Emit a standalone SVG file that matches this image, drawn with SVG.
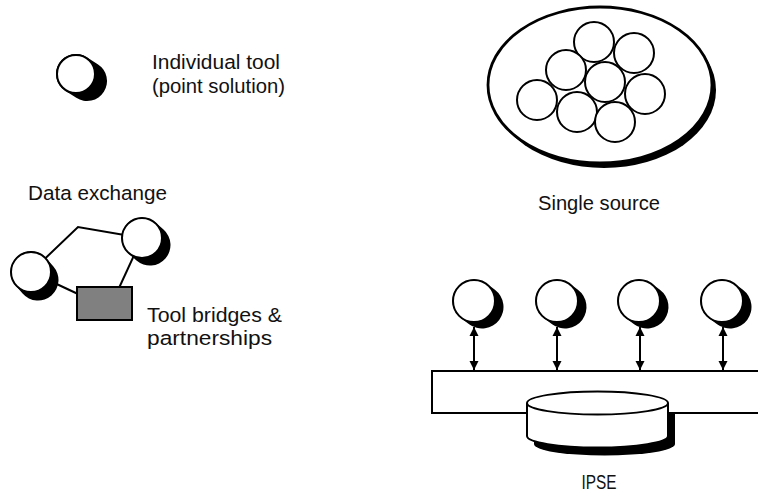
<svg xmlns="http://www.w3.org/2000/svg" width="758" height="494" viewBox="0 0 758 494">
<defs>
<style>
text{font-family:"Liberation Sans","DejaVu Sans",sans-serif;font-size:20.5px;fill:#111}
.tool{fill:#fff;stroke:#000;stroke-width:2}
.shadow{stroke:#000;stroke-linecap:round}
.ln{fill:none;stroke:#000;stroke-width:2}
</style>
<marker id="ah" viewBox="0 0 10 10" refX="10" refY="5" markerWidth="4.5" markerHeight="5" orient="auto-start-reverse" markerUnits="strokeWidth">
<path d="M0,0 L10,5 L0,10 Z" fill="#000"/>
</marker>
</defs>
<rect width="758" height="494" fill="#fff"/>

<g id="individual-tool">
<line class="shadow" x1="76" y1="74" x2="87" y2="81" stroke-width="40"/>
<circle class="tool" cx="76" cy="74" r="19"/>
<text x="152" y="69" textLength="128" lengthAdjust="spacingAndGlyphs">Individual tool</text>
<text x="152" y="93" textLength="133" lengthAdjust="spacingAndGlyphs">(point solution)</text>
</g>

<g id="single-source">
<ellipse cx="604" cy="90" rx="112" ry="78" fill="#000"/>
<ellipse cx="600" cy="85" rx="112" ry="78" fill="#fff" stroke="#000" stroke-width="2.8"/>
<circle class="tool" cx="594" cy="42" r="20"/>
<circle class="tool" cx="634" cy="53" r="20"/>
<circle class="tool" cx="566" cy="70" r="20"/>
<circle class="tool" cx="605" cy="82" r="20"/>
<circle class="tool" cx="645" cy="94" r="20"/>
<circle class="tool" cx="537" cy="100" r="20"/>
<circle class="tool" cx="577" cy="112" r="20"/>
<circle class="tool" cx="615" cy="122" r="20"/>
<text x="538" y="210" textLength="122" lengthAdjust="spacingAndGlyphs">Single source</text>
</g>

<g id="connectors-data-exchange">
<polyline class="ln" points="31,272 78,227 142,238"/>
<line class="ln" x1="142" y1="238" x2="119" y2="288"/>
<line class="ln" x1="31" y1="272" x2="78" y2="294"/>
</g>

<g id="data-exchange">
<text x="28" y="200" textLength="139" lengthAdjust="spacingAndGlyphs">Data exchange</text>
<line class="shadow" x1="31" y1="272" x2="38" y2="280" stroke-width="41"/>
<circle class="tool" cx="31" cy="272" r="20"/>
<line class="shadow" x1="142" y1="238" x2="150" y2="245" stroke-width="41"/>
<circle class="tool" cx="142" cy="238" r="20"/>
</g>

<g id="tool-bridges">
<rect x="77" y="287" width="55" height="33" fill="#808080" stroke="#000" stroke-width="2"/>
<text x="147" y="322" textLength="135" lengthAdjust="spacingAndGlyphs">Tool bridges &amp;</text>
<text x="147" y="345" textLength="125" lengthAdjust="spacingAndGlyphs">partnerships</text>
</g>

<g id="ipse">
<path d="M534,411 V444 A70.5,11.5 0 0 0 675,444 V411 Z" fill="#000"/>
<rect x="432" y="371" width="340" height="42" fill="#fff" stroke="#000" stroke-width="2"/>
<path d="M527,403 V436 A70.5,11.5 0 0 0 668,436 V403" fill="#fff" stroke="#000" stroke-width="2"/>
<ellipse cx="597.5" cy="403" rx="70.5" ry="11.5" fill="#fff" stroke="#000" stroke-width="2"/>
<text x="581.5" y="489" textLength="35" lengthAdjust="spacingAndGlyphs">IPSE</text>
</g>

<g id="ipse-tools">
<line class="shadow" x1="474" y1="301" x2="482" y2="307" stroke-width="43"/>
<circle class="tool" cx="474" cy="301" r="21"/>
<line class="shadow" x1="557" y1="301" x2="565" y2="307" stroke-width="43"/>
<circle class="tool" cx="557" cy="301" r="21"/>
<line class="shadow" x1="639" y1="301" x2="647" y2="307" stroke-width="43"/>
<circle class="tool" cx="639" cy="301" r="21"/>
<line class="shadow" x1="722" y1="301" x2="730" y2="307" stroke-width="43"/>
<circle class="tool" cx="722" cy="301" r="21"/>
</g>

<g id="connectors">
<line x1="474" y1="327" x2="474" y2="370" stroke="#000" stroke-width="2" marker-start="url(#ah)" marker-end="url(#ah)"/>
<line x1="557" y1="327" x2="557" y2="370" stroke="#000" stroke-width="2" marker-start="url(#ah)" marker-end="url(#ah)"/>
<line x1="640" y1="327" x2="640" y2="370" stroke="#000" stroke-width="2" marker-start="url(#ah)" marker-end="url(#ah)"/>
<line x1="723" y1="327" x2="723" y2="370" stroke="#000" stroke-width="2" marker-start="url(#ah)" marker-end="url(#ah)"/>
</g>
</svg>
